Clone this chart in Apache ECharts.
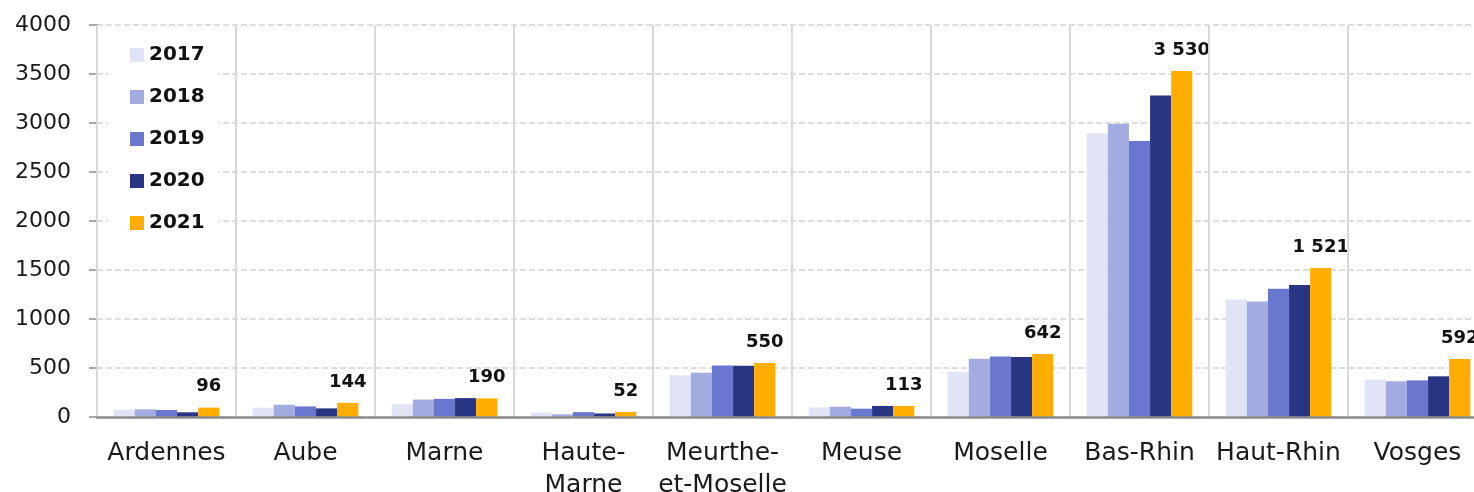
<!DOCTYPE html>
<html>
<head>
<meta charset="utf-8">
<title>Départements du Grand Est, 2017-2021</title>
<script src="https://cdn.jsdelivr.net/npm/echarts@6/dist/echarts.min.js"></script>
<style>
  html, body { margin: 0; padding: 0; background: #fff; overflow: hidden; }
  #chart { width: 1490px; height: 492px; }
</style>
</head>
<body>
<div id="chart"></div>
<script>
// Departments along the category axis
const departements = ['Ardennes', 'Aube', 'Marne', 'Haute-\nMarne', 'Meurthe-\net-Moselle',
  'Meuse', 'Moselle', 'Bas-Rhin', 'Haut-Rhin', 'Vosges'];

// One array of values per year
const v2017 = [75, 95, 130, 45, 425, 98, 458, 2895, 1200, 382];
const v2018 = [78, 125, 178, 28, 452, 105, 595, 2993, 1178, 364];
const v2019 = [72, 108, 185, 50, 525, 85, 618, 2816, 1308, 374];
const v2020 = [48, 88, 193, 36, 522, 113, 611, 3280, 1347, 415];
const v2021 = [96, 144, 190, 52, 550, 113, 642, 3530, 1521, 592];

const years = ['2017', '2018', '2019', '2020', '2021'];
const yearValues = [v2017, v2018, v2019, v2020, v2021];
const yearColors = ['#e1e4f5', '#a3ace0', '#6977cf', '#283583', '#ffad00'];

// y-axis ticks
const yMin = 0, yMax = 4000, yStep = 500;

const fontRegular = '"DejaVu Sans", sans-serif';

function withSpaces(v) {
  return String(v).replace(/\B(?=(\d{3})+(?!\d))/g, ' ');
}

const series = years.map((y, i) => ({
  name: y,
  type: 'bar',
  data: yearValues[i],
  barGap: '0%',
  barCategoryGap: '24%',
  itemStyle: { color: yearColors[i] },
  label: i === years.length - 1 ? {
    show: true,
    position: 'top',
    distance: 12,
    color: '#111',
    fontFamily: fontRegular,
    fontWeight: 'bold',
    fontSize: 18,
    formatter: p => withSpaces(p.value)
  } : { show: false }
}));

const chart = echarts.init(document.getElementById('chart'), null, { renderer: 'canvas' });
chart.setOption({
  animation: false,
  backgroundColor: '#fff',
  grid: { left: 97, right: 3, top: 25, bottom: 75, containLabel: false, outerBoundsMode: 'none' },
  legend: {
    orient: 'vertical',
    left: 108,
    top: 35,
    data: years,
    backgroundColor: '#fff',
    padding: [10, 14, 10, 22],
    itemWidth: 14,
    itemHeight: 14,
    itemGap: 22,
    icon: 'rect',
    textStyle: { fontFamily: fontRegular, fontWeight: 'bold', fontSize: 20, color: '#111' }
  },
  xAxis: {
    type: 'category',
    data: departements,
    z: 3,
    axisLine: { lineStyle: { color: '#8c8c8c', width: 2.5 } },
    axisTick: { show: false },
    splitLine: { show: true, interval: 0, lineStyle: { color: '#d9d9d9', width: 2 } },
    axisLabel: {
      interval: 0,
      margin: 20,
      color: '#1a1a1a',
      fontFamily: fontRegular,
      fontSize: 25,
      lineHeight: 32
    }
  },
  yAxis: {
    type: 'value',
    min: yMin,
    max: yMax,
    interval: yStep,
    axisLine: { show: true, lineStyle: { color: '#8c8c8c', width: 2 } },
    axisTick: { show: true, length: 8, lineStyle: { color: '#8c8c8c', width: 1.5 } },
    splitLine: { show: true, lineStyle: { color: '#d3d3d3', width: 1.5, type: [6, 3] } },
    axisLabel: {
      margin: 26,
      color: '#1a1a1a',
      fontFamily: fontRegular,
      fontSize: 22,
      formatter: v => String(v)
    }
  },
  series: series
});
</script>
</body>
</html>
